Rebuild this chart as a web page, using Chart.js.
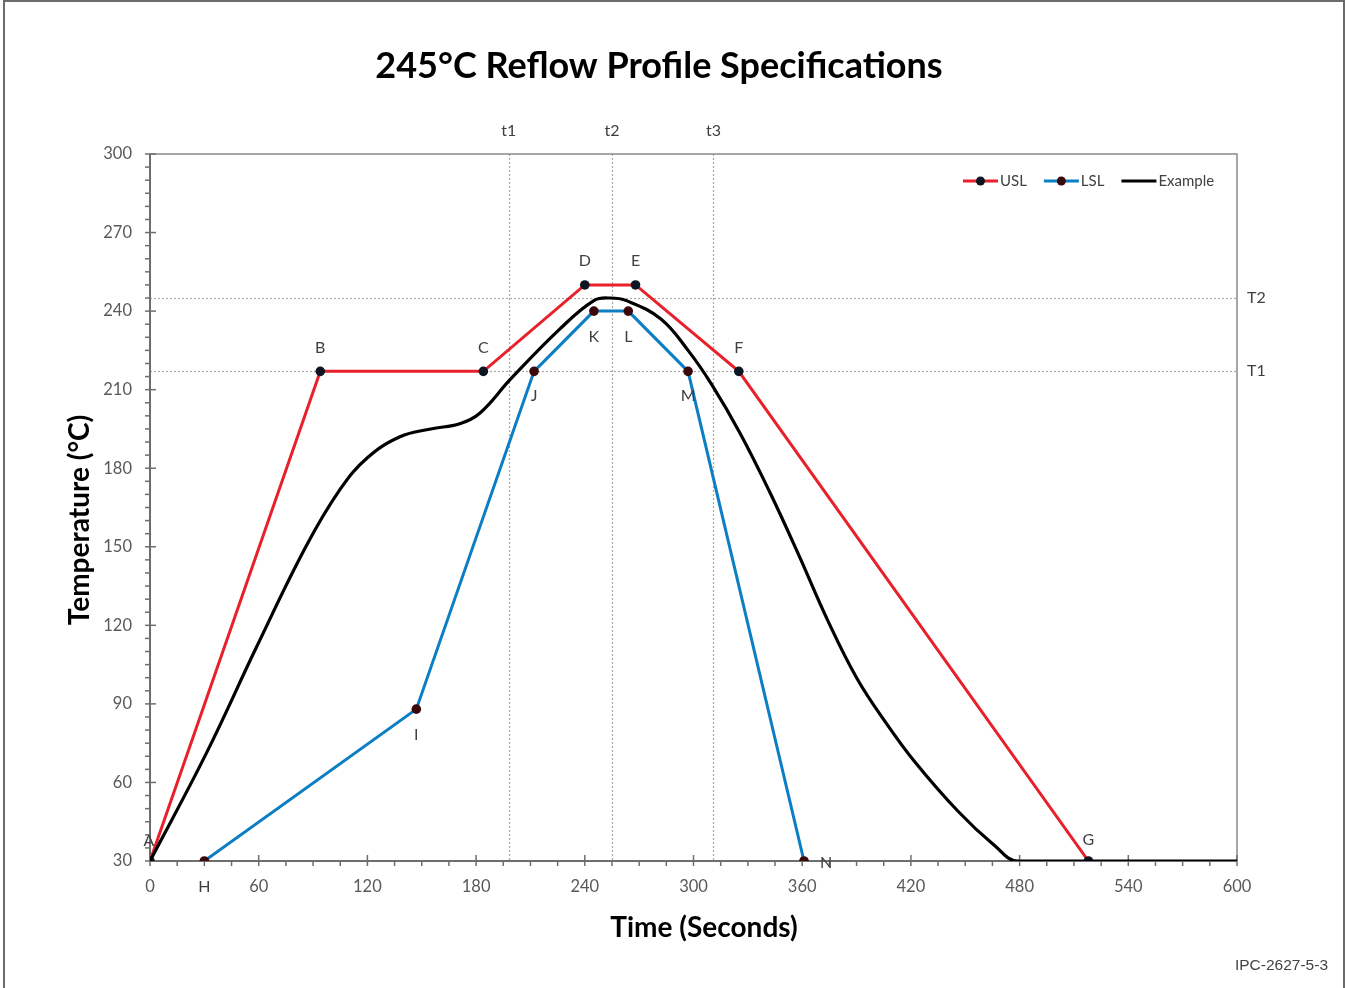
<!DOCTYPE html>
<html><head><meta charset="utf-8">
<script src="https://cdn.jsdelivr.net/npm/chart.js@4.4.0/dist/chart.umd.min.js"></script>
<style>
html,body{margin:0;padding:0;background:#fff;}
#wrap{position:relative;width:1345px;height:988px;overflow:hidden;background:#fff;}
#frame{position:absolute;left:3px;top:0;width:1342px;height:1000px;border:2px solid #6b6b6b;border-bottom:none;box-sizing:border-box;}
#cv{position:absolute;left:0;top:0;}
#ref{position:absolute;right:17px;top:956px;font:15.5px "Liberation Sans",Arial,sans-serif;color:#444;}
</style></head><body>
<div id="wrap"><div id="frame"></div><canvas id="cv" width="1345" height="988"></canvas><div id="ref">IPC-2627-5-3</div></div>
<script>
// ---- data ----
const chartTitle = '245°C Reflow Profile Specifications';
const xTitle = 'Time (Seconds)';
const yTitle = 'Temperature (°C)';

const uslTime  = [0, 94, 184, 240, 268, 325, 518];
const uslTemp  = [30, 217, 217, 250, 250, 217, 30];
const uslNames = ['A','B','C','D','E','F','G'];

const lslTime  = [30, 147, 212, 245, 264, 297, 361];
const lslTemp  = [30, 88, 217, 240, 240, 217, 30];
const lslNames = ['H','I','J','K','L','M','N'];

const exTime = [0, 31, 59, 86, 105, 120, 138, 155, 171, 182, 199, 226, 245, 254, 263, 282, 297, 310, 326, 342, 358, 374, 390, 406, 422, 446, 466, 479, 600];
const exTemp = [30, 71, 112, 150, 172, 184, 192, 195, 197, 201, 214, 233, 244, 245, 244, 237, 225, 212, 193, 171, 147, 122, 100, 83, 68, 49, 36, 30, 30];

const refTimes = [198, 255, 311];
const refTimeNames = ['t1','t2','t3'];
const refTemps = [217, 245];
const refTempNames = ['T1','T2'];

const xTickValues = [0, 60, 120, 180, 240, 300, 360, 420, 480, 540, 600];
const yTickValues = [30, 60, 90, 120, 150, 180, 210, 240, 270, 300];

// ---- styles ----
const FONT = 'Lato, "Open Sans", sans-serif';
const USL_COLOR = '#e8202a';
const LSL_COLOR = '#0b7ec4';
const EX_COLOR = '#000000';

// label offsets (style)
const uslOffsets = [[-1,-20],[0,-23],[0,-23],[0,-24],[0,-24],[0,-23],[0,-21]];
const lslOffsets = [[0,26],[0,26],[0,25],[0,26],[0,26],[0,25],[22,2]];

const toXY = (xs, ys) => xs.map((t,i)=>({x:t, y:ys[i]}));

const deco = {
  id: 'deco',
  beforeDatasetsDraw(chart){
    const {ctx, chartArea:a, scales:{x,y}} = chart;
    ctx.save();
    // reference dotted lines
    ctx.strokeStyle = '#a9a9a9'; ctx.lineWidth = 1.2; ctx.setLineDash([2,2]);
    refTimes.forEach(t=>{
      const px = Math.round(x.getPixelForValue(t))+0.5;
      ctx.beginPath(); ctx.moveTo(px, a.top); ctx.lineTo(px, a.bottom); ctx.stroke();
    });
    refTemps.forEach(v=>{
      const py = Math.round(y.getPixelForValue(v))+0.5;
      ctx.beginPath(); ctx.moveTo(a.left, py); ctx.lineTo(a.right, py); ctx.stroke();
    });
    ctx.setLineDash([]);
    // frame top/right
    ctx.strokeStyle = '#8a8a8a'; ctx.lineWidth = 1.5;
    ctx.beginPath(); ctx.moveTo(a.left, a.top); ctx.lineTo(a.right, a.top); ctx.lineTo(a.right, a.bottom); ctx.stroke();
    // axes
    ctx.strokeStyle = '#6e6e6e'; ctx.lineWidth = 2;
    ctx.beginPath(); ctx.moveTo(a.left, a.top); ctx.lineTo(a.left, a.bottom); ctx.lineTo(a.right, a.bottom); ctx.stroke();
    // ticks
    ctx.lineWidth = 1.5;
    for(let v=y.min; v<=y.max+0.001; v+=5){
      const py = y.getPixelForValue(v);
      const major = yTickValues.includes(v);
      ctx.beginPath(); ctx.moveTo(a.left-5, py); ctx.lineTo(a.left+(major?6:0), py); ctx.stroke();
    }
    for(let v=x.min; v<=x.max+0.001; v+=15){
      const px = x.getPixelForValue(v);
      const major = xTickValues.includes(v);
      ctx.beginPath(); ctx.moveTo(px, a.bottom+5); ctx.lineTo(px, a.bottom-(major?6:0)); ctx.stroke();
    }
    ctx.restore();
  },
  afterDatasetsDraw(chart){
    const {ctx, chartArea:a, scales:{x,y}} = chart;
    ctx.save();
    // title
    ctx.font = 'bold 36px ' + FONT; ctx.fillStyle = '#000';
    ctx.textAlign = 'center'; ctx.textBaseline = 'middle';
    ctx.fillText(chartTitle, 659, 66);
    // axis titles
    ctx.font = 'bold 28px ' + FONT;
    ctx.fillText(xTitle, 704, 928);
    ctx.save(); ctx.translate(80, 520); ctx.rotate(-Math.PI/2); ctx.fillText(yTitle, 0, 0); ctx.restore();
    ctx.font = '16px ' + FONT; ctx.fillStyle = '#404040';
    refTimes.forEach((t,i)=>{ ctx.fillText(refTimeNames[i], x.getPixelForValue(t), a.top-23); });
    ctx.textAlign = 'left';
    refTemps.forEach((v,i)=>{ ctx.fillText(refTempNames[i], a.right+10, y.getPixelForValue(v)); });
    // point labels
    ctx.textAlign = 'center';
    uslNames.forEach((n,i)=>{ ctx.fillText(n, x.getPixelForValue(uslTime[i])+uslOffsets[i][0], y.getPixelForValue(uslTemp[i])+uslOffsets[i][1]); });
    lslNames.forEach((n,i)=>{ ctx.fillText(n, x.getPixelForValue(lslTime[i])+lslOffsets[i][0], y.getPixelForValue(lslTemp[i])+lslOffsets[i][1]); });
    // legend
    const items = chart.data.datasets;
    let lx = 963; const ly = 181;
    ctx.font = '15px ' + FONT; ctx.textAlign = 'left';
    items.forEach(ds=>{
      ctx.strokeStyle = ds.borderColor; ctx.lineWidth = 3;
      ctx.beginPath(); ctx.moveTo(lx, ly); ctx.lineTo(lx+35, ly); ctx.stroke();
      if(ds.pointRadius>0){
        ctx.fillStyle = ds.pointBackgroundColor;
        ctx.beginPath(); ctx.arc(lx+17.5, ly, 4.5, 0, Math.PI*2); ctx.fill();
      }
      ctx.fillStyle = '#404040';
      ctx.fillText(ds.label, lx+37, ly);
      lx += 37 + ctx.measureText(ds.label).width + 17;
    });
    ctx.restore();
  }
};

new Chart(document.getElementById('cv'), {
  type: 'line',
  data: {
    datasets: [
      {label:'USL', data: toXY(uslTime, uslTemp), borderColor: USL_COLOR, borderWidth: 3,
       pointRadius: 4.8, pointBackgroundColor: '#0d1620', pointBorderWidth: 0, tension: 0, order: 2},
      {label:'LSL', data: toXY(lslTime, lslTemp), borderColor: LSL_COLOR, borderWidth: 3,
       pointRadius: 4.8, pointBackgroundColor: '#3a0808', pointBorderWidth: 0, tension: 0, order: 3},
      {label:'Example', data: toXY(exTime, exTemp), borderColor: EX_COLOR, borderWidth: 3.2,
       pointRadius: 0, tension: 0.4, order: 1}
    ]
  },
  options: {
    responsive: false, animation: false, devicePixelRatio: 1,
    layout: {padding: {left: 50, right: 108, top: 154, bottom: 30}},
    plugins: {
      legend: {display: false}, tooltip: {enabled: false}, title: {display: false}
    },
    scales: {
      x: {type: 'linear', min: 0, max: 600,
        afterFit: s => { s.height = 97; },
        afterBuildTicks: s => { s.ticks = xTickValues.map(v=>({value:v})); },
        grid: {display: false, drawTicks: false}, border: {display: false},
        ticks: {color: '#595959', font: {family: FONT, size: 16.5}, padding: 16, maxRotation: 0},
        title: {display: false}
      },
      y: {type: 'linear', min: 30, max: 300,
        afterFit: s => { s.width = 100; },
        afterBuildTicks: s => { s.ticks = yTickValues.map(v=>({value:v})); },
        grid: {display: false, drawTicks: false}, border: {display: false},
        ticks: {color: '#595959', font: {family: FONT, size: 16.5}, padding: 18},
        title: {display: false}
      }
    }
  },
  plugins: [deco]
});
</script>
</body></html>
